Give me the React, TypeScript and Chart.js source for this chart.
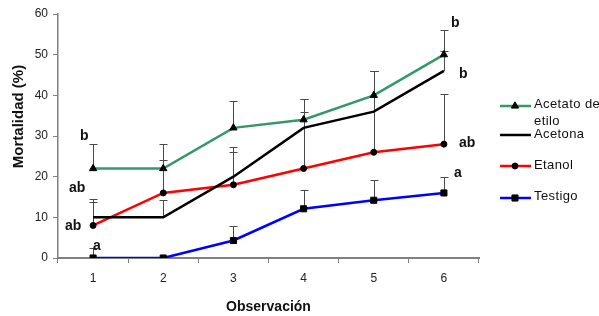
import React, { useEffect, useRef } from 'react';
import { Chart, registerables } from 'chart.js';

Chart.register(...registerables);

const categories = ['1', '2', '3', '4', '5', '6'];
const seriesNames = ['Acetato de etilo', 'Acetona', 'Etanol', 'Testigo'];
const acetato = [22, 22, 32, 34, 40, 50];
const acetatoErr = [6, 6, 6.5, 5, 6, 6];
const acetona = [10, 10, 20, 32, 36, 46];
const acetonaErr = [4.4, 4.2, 7.4, 3.8, 10, 5];
const etanol = [8, 16, 18, 22, 26, 28];
const etanolErr = [5.8, 8, 8.1, 17, 20, 12.3];
const testigo = [0, 0, 4.3, 12.1, 14.2, 16];
const testigoErr = [2.5, 0, 3.6, 4.6, 4.9, 3.9];
const firstLetters = ['b', 'ab', 'ab', 'a'];
const firstLetterValues = [29.1, 16.2, 6.8, 1.9];
const lastLetters = ['b', 'b', 'ab', 'a'];
const lastLetterValues = [56.7, 44.2, 27.4, 19.8];
const yMin = 0;
const yMax = 60;
const yStep = 10;
const xTitle = 'Observación';
const yTitle = 'Mortalidad (%)';

const FONT = '"Liberation Sans", Arial, sans-serif';

export default function App() {
  const ref = useRef<HTMLCanvasElement | null>(null);

  useEffect(() => {
    document.body.style.margin = '0';
    const canvas = ref.current;
    if (!canvas) return;
    const errs = [acetatoErr, acetonaErr, etanolErr, testigoErr];

    const errorPlugin = {
      id: 'errorBars',
      beforeDatasetsDraw(chart: any) {
        const ctx = chart.ctx;
        const xs = chart.scales.x;
        const ys = chart.scales.y;
        ctx.save();
        ctx.strokeStyle = '#4a4a4a';
        ctx.lineWidth = 1;
        chart.data.datasets.forEach((ds: any, di: number) => {
          ds.data.forEach((v: number, i: number) => {
            const e = errs[di][i];
            if (!e) return;
            const px = Math.round(xs.getPixelForValue(i)) + 0.5;
            const y0 = ys.getPixelForValue(v);
            const y1 = Math.round(ys.getPixelForValue(v + e)) + 0.5;
            ctx.beginPath();
            ctx.moveTo(px, y0);
            ctx.lineTo(px, y1);
            ctx.moveTo(px - 4, y1);
            ctx.lineTo(px + 4, y1);
            ctx.stroke();
          });
        });
        ctx.restore();
      },
    };

    const textPlugin = {
      id: 'texts',
      afterDraw(chart: any) {
        const ctx = chart.ctx;
        const xs = chart.scales.x;
        const ys = chart.scales.y;
        const area = chart.chartArea;
        ctx.save();
        // significance letters
        ctx.fillStyle = '#111';
        ctx.font = `bold 14px ${FONT}`;
        ctx.textAlign = 'left';
        ctx.textBaseline = 'alphabetic';
        const p0 = xs.getPixelForValue(0);
        const firstDx = [-13, -24, -28, 0];
        firstLetters.forEach((t, k) => {
          ctx.fillText(t, p0 + firstDx[k], ys.getPixelForValue(firstLetterValues[k]));
        });
        const p5 = xs.getPixelForValue(5);
        const lastDx = [7, 15, 15, 10];
        lastLetters.forEach((t, k) => {
          ctx.fillText(t, p5 + lastDx[k], ys.getPixelForValue(lastLetterValues[k]));
        });
        // axis titles
        ctx.font = `bold 14px ${FONT}`;
        ctx.textAlign = 'center';
        ctx.fillText(xTitle, (area.left + area.right) / 2, 311);
        ctx.save();
        ctx.translate(22.5, 116.5);
        ctx.rotate(-Math.PI / 2);
        ctx.font = `bold 15px ${FONT}`;
        ctx.fillText(yTitle, 0, 0);
        ctx.restore();
        // legend
        const lx0 = 500;
        const lx1 = 531;
        const lineYs = [106, 135, 166, 198];
        ctx.font = `13px ${FONT}`;
        (ctx as any).letterSpacing = '0.4px';
        ctx.textAlign = 'left';
        ctx.textBaseline = 'middle';
        chart.data.datasets.forEach((ds: any, di: number) => {
          const y = lineYs[di];
          ctx.strokeStyle = ds.borderColor;
          ctx.lineWidth = 2.5;
          ctx.beginPath();
          ctx.moveTo(lx0, y);
          ctx.lineTo(lx1, y);
          ctx.stroke();
          if (ds.pointRadius > 0) {
            ctx.fillStyle = '#000';
            ctx.strokeStyle = '#000';
            ctx.lineWidth = 1;
            // @ts-ignore
            (Chart as any).helpers?.drawPoint;
          }
        });
        ctx.restore();
      },
    };

    const chart = new Chart(canvas, {
      type: 'line',
      data: {
        labels: categories,
        datasets: [
          {
            label: seriesNames[0],
            data: acetato,
            borderColor: '#339966',
            borderWidth: 2.5,
            pointStyle: 'triangle',
            pointRadius: 4.2,
            pointBackgroundColor: '#000',
            pointBorderColor: '#000',
            pointBorderWidth: 1,
          },
          {
            label: seriesNames[1],
            data: acetona,
            borderColor: '#000000',
            borderWidth: 2.5,
            pointRadius: 0,
          },
          {
            label: seriesNames[2],
            data: etanol,
            borderColor: '#ff0000',
            borderWidth: 2.5,
            pointStyle: 'circle',
            pointRadius: 3,
            pointBackgroundColor: '#000',
            pointBorderColor: '#000',
            pointBorderWidth: 1,
          },
          {
            label: seriesNames[3],
            data: testigo,
            borderColor: '#0000ff',
            borderWidth: 2.5,
            pointStyle: 'rect',
            pointRadius: 4.3,
            pointBackgroundColor: '#000',
            pointBorderColor: '#000',
            pointBorderWidth: 1,
          },
        ],
      },
      options: {
        animation: false,
        responsive: true,
        maintainAspectRatio: false,
        layout: { padding: { top: 14, right: 120, left: 0, bottom: 0 } },
        plugins: {
          legend: { display: false },
          tooltip: { enabled: false },
        },
        scales: {
          x: {
            type: 'category',
            offset: true,
            grid: {
              display: true,
              drawOnChartArea: false,
              offset: true,
              tickLength: 5,
              color: '#808080',
            },
            border: { display: true, color: '#808080', width: 2 },
            ticks: {
              color: '#222',
              font: { size: 12, family: FONT },
              padding: 8,
              maxRotation: 0,
            },
            afterFit(scale: any) {
              scale.height = 58;
            },
          },
          y: {
            min: yMin,
            max: yMax,
            grid: {
              display: true,
              drawOnChartArea: false,
              tickLength: 5,
              color: '#808080',
            },
            border: { display: true, color: '#808080', width: 1.5 },
            ticks: {
              stepSize: yStep,
              color: '#222',
              font: { size: 12, family: FONT },
              padding: 5,
            },
            afterFit(scale: any) {
              scale.width = 58;
            },
          },
        },
      },
      plugins: [errorPlugin, textPlugin, {
        id: 'legendMarkers',
        afterDraw(chart: any) {
          const ctx = chart.ctx;
          const lineYs = [106, 135, 166, 198];
          const helpers = (Chart as any).helpers;
          ctx.save();
          chart.data.datasets.forEach((ds: any, di: number) => {
            const y = lineYs[di];
            if (ds.pointRadius > 0) {
              const meta = chart.getDatasetMeta(di);
              const el = meta.data[0];
              if (el && el.draw) {
                const ox = el.x;
                const oy = el.y;
                el.x = 515;
                el.y = y;
                el.draw(ctx, undefined);
                el.x = ox;
                el.y = oy;
              }
            }
          });
          ctx.font = `13px ${FONT}`;
          (ctx as any).letterSpacing = '0.4px';
          ctx.fillStyle = '#111';
          ctx.textAlign = 'left';
          ctx.textBaseline = 'middle';
          ctx.fillText('Acetato de', 534, 104);
          ctx.fillText('etilo', 534, 121);
          ctx.fillText('Acetona', 534, 134);
          ctx.fillText('Etanol', 534, 165);
          ctx.fillText('Testigo', 534, 196);
          ctx.restore();
        },
      }],
    });
    return () => chart.destroy();
  }, []);

  return (
    <div style={{ width: 599, height: 316, position: 'relative', overflow: 'hidden' }}>
      <canvas ref={ref} />
    </div>
  );
}
